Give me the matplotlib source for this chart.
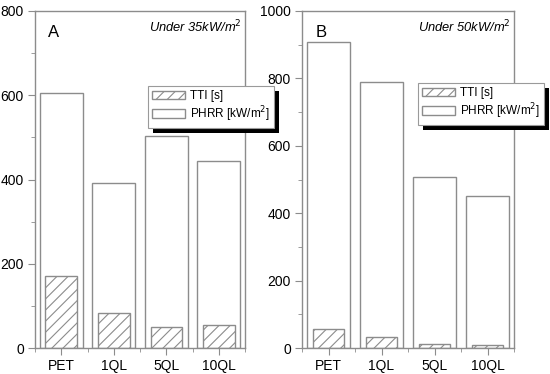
import matplotlib
matplotlib.use("Agg")
import matplotlib.pyplot as plt
import matplotlib.patches as patches
import numpy as np

plt.rcParams['font.family'] = ['Liberation Sans', 'DejaVu Sans']
plt.rcParams['hatch.color'] = '#8a8a8a'
plt.rcParams['hatch.linewidth'] = 0.8

samples = ['PET', '1QL', '5QL', '10QL']

# panel A, 35 kW/m2
phrr_a = [605, 392, 503, 443]
tti_a = [171, 83, 51, 54]

# panel B, 50 kW/m2
phrr_b = [908, 790, 506, 450]
tti_b = [56, 32, 11, 8]

edge = '#8c8c8c'

fig = plt.figure(figsize=(5.5, 3.74), dpi=100)
ax_a = fig.add_axes([35/550, 1 - 348/374, 210/550, 337/374])
ax_b = fig.add_axes([302/550, 1 - 348/374, 212/550, 337/374])


def draw_panel(ax, phrr, tti, ymax, letter, note, leg_pos):
    x = np.arange(1, len(samples) + 1)
    ax.bar(x, phrr, width=0.82, color='white', edgecolor=edge, linewidth=1.0,
           label='PHRR [kW/m$^2$]', zorder=1)
    ax.bar(x, tti, width=0.6, color='white', edgecolor=edge, linewidth=1.0,
           hatch='///', label='TTI [s]', zorder=2)

    ax.set_xlim(0.5, len(samples) + 0.5)
    ax.set_ylim(0, ymax)
    ax.set_xticks(x)
    ax.set_xticklabels(samples)
    ax.set_xticks(np.arange(0.5, len(samples) + 1, 1.0), minor=True)
    ax.set_yticks(np.arange(0, ymax + 1, 200))
    ax.set_yticks(np.arange(100, ymax, 200), minor=True)
    ax.tick_params(axis='both', which='major', direction='out', length=5,
                   color=edge, labelsize=10, top=False, right=False, pad=3)
    ax.tick_params(axis='both', which='minor', direction='out', length=3,
                   color=edge, top=False, right=False)
    ax.tick_params(axis='x', which='major', pad=3)
    for s in ax.spines.values():
        s.set_color(edge)
        s.set_linewidth(1.0)

    ax.text(0.062, 0.958, letter, transform=ax.transAxes, fontsize=12,
            ha='left', va='top')
    ax.text(0.985, 0.978, note, transform=ax.transAxes, fontsize=9.3,
            style='italic', ha='right', va='top')

    h, l = ax.get_legend_handles_labels()
    leg = ax.legend(h[::-1], l[::-1], loc='upper left', bbox_to_anchor=leg_pos,
                    bbox_transform=fig.transFigure, fontsize=8.5,
                    frameon=True, fancybox=False, framealpha=1,
                    handlelength=2.8, handleheight=0.75, handletextpad=0.4,
                    borderpad=0.35, labelspacing=0.15, borderaxespad=0)
    leg.get_frame().set_edgecolor('#9a9a9a')
    leg.get_frame().set_linewidth(0.8)
    return leg


leg_a = draw_panel(ax_a, phrr_a, tti_a, 800, 'A', 'Under 35kW/m$^2$',
                   (148/550, 1 - 86/374))
leg_b = draw_panel(ax_b, phrr_b, tti_b, 1000, 'B', 'Under 50kW/m$^2$',
                   (418/550, 1 - 83/374))

# black drop shadow behind each legend frame (offset in points)
fig.canvas.draw()
for ax, leg in [(ax_a, leg_a), (ax_b, leg_b)]:
    sh = patches.Shadow(leg.get_frame(), 3.6, -3.6)
    sh.set_facecolor('black')
    sh.set_edgecolor('none')
    sh.set_alpha(1)
    sh.set_zorder(4.5)
    sh.set_clip_on(False)
    ax.add_artist(sh)

fig.savefig('out.png', dpi=100)
